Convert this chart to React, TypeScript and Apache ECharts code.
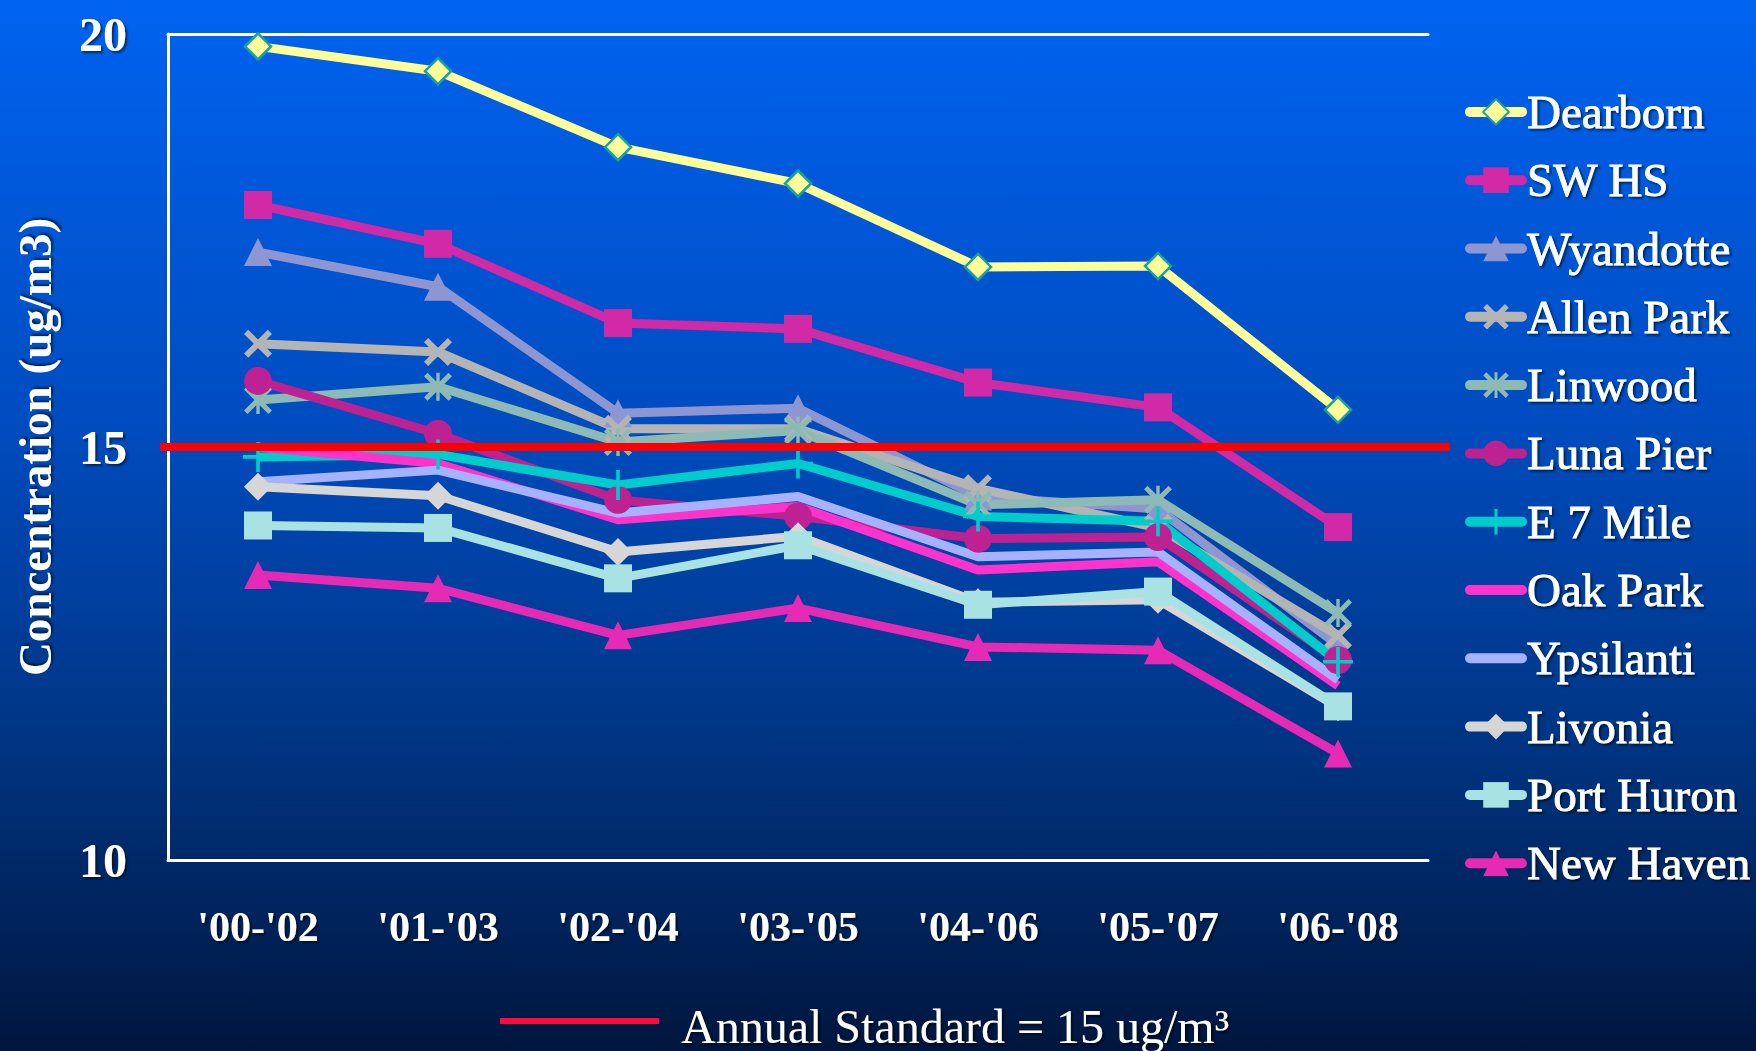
import React, { useEffect, useRef } from "react";
import * as echarts from "echarts";

const categories = ["'00-'02", "'01-'03", "'02-'04", "'03-'05", "'04-'06", "'05-'07", "'06-'08"];
const yTicks = [10, 15, 20];
const standardValue = 15;

const dearborn = [19.85, 19.55, 18.63, 18.19, 17.18, 17.19, 15.45];
const swHs = [17.93, 17.46, 16.5, 16.43, 15.78, 15.48, 14.03];
const wyandotte = [17.36, 16.94, 15.41, 15.47, 14.4, 14.25, 12.6];
const allenPark = [16.25, 16.15, 15.22, 15.22, 14.5, 14.02, 12.72];
const linwood = [15.57, 15.73, 15.06, 15.2, 14.3, 14.36, 12.99];
const lunaPier = [15.8, 15.16, 14.36, 14.16, 13.89, 13.91, 12.42];
const e7Mile = [14.88, 14.91, 14.54, 14.8, 14.16, 14.1, 12.4];
const oakPark = [15.0, 14.8, 14.12, 14.28, 13.51, 13.61, 12.11];
const ypsilanti = [14.58, 14.72, 14.2, 14.4, 13.67, 13.73, 12.18];
const livonia = [14.52, 14.41, 13.73, 13.92, 13.12, 13.15, 11.85];
const portHuron = [14.05, 14.02, 13.41, 13.81, 13.09, 13.25, 11.86];
const newHaven = [13.45, 13.29, 12.72, 13.05, 12.58, 12.54, 11.29];

const FONT = '"Liberation Serif", "Times New Roman", serif';

const X_PATH =
  "path://M3,0 L10,7 L17,0 L20,3 L13,10 L20,17 L17,20 L10,13 L3,20 L0,17 L7,10 L0,3 Z";
const STAR_PATH =
  "path://M2.5,0 L10,7.5 L17.5,0 L20,2.5 L12.5,10 L20,17.5 L17.5,20 L10,12.5 L2.5,20 L0,17.5 L7.5,10 L0,2.5 Z M8.8,0 L11.2,0 L11.2,20 L8.8,20 Z";
const PLUS_PATH =
  "path://M8.8,0 L11.2,0 L11.2,8.8 L20,8.8 L20,11.2 L11.2,11.2 L11.2,20 L8.8,20 L8.8,11.2 L0,11.2 L0,8.8 L8.8,8.8 Z";

const seriesDefs = [
  { name: "Dearborn", data: dearborn, color: "#FFFF99", symbol: "diamond", size: 26, border: "#17A398" },
  { name: "SW HS", data: swHs, color: "#D22AA6", symbol: "rect", size: 28 },
  { name: "Wyandotte", data: wyandotte, color: "#8E96D2", symbol: "triangle", size: 28 },
  { name: "Allen Park", data: allenPark, color: "#B4B4B4", symbol: X_PATH, size: 28 },
  { name: "Linwood", data: linwood, color: "#8EBAB6", symbol: STAR_PATH, size: 28 },
  { name: "Luna Pier", data: lunaPier, color: "#BE2292", symbol: "circle", size: 28 },
  { name: "E 7 Mile", data: e7Mile, color: "#00CCCC", symbol: PLUS_PATH, size: 30 },
  { name: "Oak Park", data: oakPark, color: "#FF33CC", symbol: "none", size: 0 },
  { name: "Ypsilanti", data: ypsilanti, color: "#A6B2FF", symbol: "none", size: 0 },
  { name: "Livonia", data: livonia, color: "#D6D6D6", symbol: "diamond", size: 28 },
  { name: "Port Huron", data: portHuron, color: "#A8E2E2", symbol: "rect", size: 28 },
  { name: "New Haven", data: newHaven, color: "#E62AB6", symbol: "triangle", size: 28 },
];

const shadow = {
  textShadowColor: "rgba(0,0,0,0.55)",
  textShadowBlur: 2,
  textShadowOffsetX: 2,
  textShadowOffsetY: 2,
};

export default function App() {
  const ref = useRef<HTMLDivElement>(null);

  useEffect(() => {
    if (!ref.current) return;
    const chart = echarts.init(ref.current, undefined, { renderer: "svg" });

    const lineSeries = seriesDefs.map((d) => ({
      name: d.name,
      type: "line",
      xAxisIndex: 0,
      yAxisIndex: 0,
      data: d.data,
      symbol: d.symbol,
      symbolSize: d.size,
      showSymbol: d.symbol !== "none",
      lineStyle: { color: d.color, width: 9 },
      itemStyle: {
        color: d.color,
        borderColor: d.border || d.color,
        borderWidth: d.border ? 2.5 : 0,
      },
      emphasis: { disabled: true },
    }));

    const legendData = seriesDefs.map((d) =>
      d.symbol === "none"
        ? { name: d.name, itemStyle: { opacity: 0 } }
        : { name: d.name }
    );

    const option: any = {
      animation: false,
      backgroundColor: new echarts.graphic.LinearGradient(0, 0, 0, 1, [
        { offset: 0, color: "#0063F0" },
        { offset: 0.4, color: "#004CC0" },
        { offset: 0.7, color: "#003584" },
        { offset: 1, color: "#00163E" },
      ]),
      grid: [
        { left: 168, right: 328, top: 34, bottom: 191 },
        { left: 160, right: 306, top: 34, bottom: 191 },
      ],
      legend: {
        data: legendData,
        orient: "vertical",
        left: 1460,
        top: 83,
        itemWidth: 52,
        itemHeight: 32,
        itemGap: 20.5,
        selectedMode: false,
        lineStyle: { width: 10, cap: "round" },
        textStyle: {
          color: "#FFFFFF",
          fontSize: 47,
          lineHeight: 47,
          fontFamily: FONT,
          textBorderColor: "#FFFFFF",
          textBorderWidth: 0.8,
          ...shadow,
        },
      },
      xAxis: [
        {
          type: "category",
          gridIndex: 0,
          data: categories,
          boundaryGap: true,
          axisLine: { show: true, onZero: false, lineStyle: { color: "#FFFFFF", width: 3 } },
          axisTick: { show: false },
          axisLabel: {
            color: "#FFFFFF",
            fontSize: 42,
            fontWeight: "bold",
            fontFamily: FONT,
            margin: 46,
            ...shadow,
          },
          splitLine: { show: false },
        },
        {
          type: "category",
          gridIndex: 0,
          position: "top",
          data: categories,
          axisLine: { show: true, onZero: false, lineStyle: { color: "#FFFFFF", width: 3 } },
          axisTick: { show: false },
          axisLabel: { show: false },
          splitLine: { show: false },
        },
        {
          type: "value",
          gridIndex: 1,
          min: 0,
          max: 1,
          show: false,
        },
      ],
      yAxis: [
        {
          type: "value",
          gridIndex: 0,
          min: yTicks[0],
          max: yTicks[yTicks.length - 1],
          interval: 5,
          axisLine: { show: true, lineStyle: { color: "#FFFFFF", width: 3 } },
          axisTick: { show: false },
          splitLine: { show: false },
          axisLabel: {
            color: "#FFFFFF",
            fontSize: 48,
            fontWeight: "bold",
            fontFamily: FONT,
            margin: 41,
            ...shadow,
          },
          name: "Concentration (ug/m3)",
          nameLocation: "middle",
          nameRotate: 90,
          nameGap: 110,
          nameTextStyle: {
            color: "#FFFFFF",
            fontSize: 47,
            fontWeight: "bold",
            fontFamily: FONT,
            ...shadow,
          },
        },
        {
          type: "value",
          gridIndex: 1,
          min: yTicks[0],
          max: yTicks[yTicks.length - 1],
          show: false,
        },
      ],
      series: [
        ...lineSeries,
        {
          name: "Annual Standard",
          type: "line",
          xAxisIndex: 2,
          yAxisIndex: 1,
          data: [
            [0, standardValue],
            [1, standardValue],
          ],
          symbol: "none",
          lineStyle: { color: "#FF0000", width: 8 },
          z: 10,
          emphasis: { disabled: true },
        },
      ],
      graphic: [
        {
          type: "line",
          shape: { x1: 500, y1: 1021, x2: 659, y2: 1021 },
          style: { stroke: "#FF0A3C", lineWidth: 6 },
        },
        {
          type: "text",
          left: 681,
          top: 1002,
          style: {
            text: "Annual Standard = 15 ug/m³",
            fill: "#FFFFFF",
            font: `48px ${FONT}`,
            textShadowColor: "rgba(0,0,0,0.6)",
            textShadowBlur: 2,
            textShadowOffsetX: 2,
            textShadowOffsetY: 2,
          },
        },
      ],
    };

    chart.setOption(option);
    return () => chart.dispose();
  }, []);

  return (
    <div
      ref={ref}
      style={{ position: "absolute", left: 0, top: 0, width: 1756, height: 1051 }}
    />
  );
}
